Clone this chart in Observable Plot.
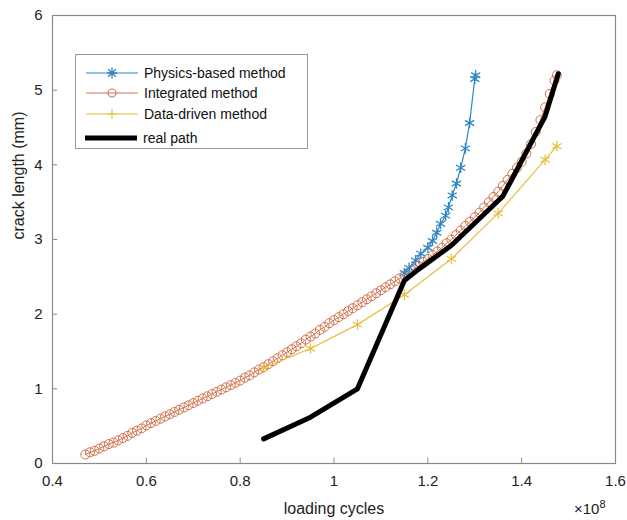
<!DOCTYPE html>
<html>
<head>
<meta charset="utf-8">
<script src="https://cdn.jsdelivr.net/npm/d3@7"></script>
<script src="https://cdn.jsdelivr.net/npm/@observablehq/plot@0.6"></script>
<style>
  body { margin: 0; background: #fff; font-family: "Liberation Sans", Arial, sans-serif; }
  #wrap { position: relative; width: 627px; height: 520px; }
  #legend { position: absolute; left: 75px; top: 54px; width: 233px; height: 95px; border: 1px solid #999; background: #fff; box-sizing: border-box; }
  .row { position: absolute; left: 0; height: 20px; display: flex; align-items: center; font-size: 14px; color: #111; }
  #exp { position: absolute; left: 574px; top: 498px; font-size: 15px; color: #222; }
  #exp sup { font-size: 11px; }
</style>
</head>
<body>
<div id="wrap"></div>
<script>
// Physics-based method
const physX = [1.15, 1.16, 1.174, 1.185, 1.2, 1.21, 1.219, 1.227, 1.238, 1.244, 1.252, 1.261, 1.27, 1.28, 1.289, 1.30, 1.302];
const physY = [2.55, 2.62, 2.72, 2.81, 2.89, 2.98, 3.09, 3.21, 3.32, 3.43, 3.59, 3.75, 3.96, 4.22, 4.56, 5.15, 5.2];
// Integrated method
const intX = [0.47,0.48,0.49,0.50,0.51,0.52,0.53,0.54,0.55,0.56,0.57,0.58,0.59,0.60,0.61,0.62,0.63,0.64,0.65,0.66,0.67,0.68,0.69,0.70,0.71,0.72,0.73,0.74,0.75,0.76,0.77,0.78,0.79,0.80,0.81,0.82,0.83,0.84,0.85,0.86,0.87,0.88,0.89,0.90,0.91,0.92,0.93,0.94,0.95,0.96,0.97,0.98,0.99,1.00,1.01,1.02,1.03,1.04,1.05,1.06,1.07,1.08,1.09,1.10,1.11,1.12,1.13,1.14,1.15,1.16,1.17,1.18,1.19,1.20,1.21,1.22,1.23,1.24,1.25,1.26,1.27,1.28,1.29,1.30,1.31,1.32,1.33,1.34,1.35,1.36,1.37,1.38,1.39,1.40,1.41,1.42,1.43,1.44,1.45,1.46,1.47,1.475];
const intY = [0.12,0.15,0.17,0.20,0.23,0.26,0.28,0.31,0.34,0.37,0.41,0.44,0.47,0.51,0.54,0.57,0.60,0.63,0.66,0.69,0.72,0.75,0.78,0.81,0.84,0.87,0.90,0.93,0.96,0.99,1.02,1.05,1.08,1.11,1.15,1.18,1.22,1.26,1.29,1.33,1.37,1.41,1.45,1.49,1.53,1.57,1.61,1.66,1.70,1.74,1.79,1.83,1.88,1.92,1.96,2.00,2.04,2.08,2.12,2.16,2.20,2.24,2.28,2.32,2.36,2.40,2.44,2.48,2.52,2.56,2.61,2.65,2.70,2.74,2.79,2.84,2.89,2.95,3.00,3.06,3.12,3.18,3.24,3.30,3.36,3.43,3.50,3.57,3.64,3.72,3.80,3.88,3.96,4.04,4.15,4.28,4.44,4.60,4.77,4.95,5.13,5.2];
// Data-driven method
const dataX = [0.85, 0.95, 1.05, 1.15, 1.25, 1.35, 1.45, 1.475];
const dataY = [1.28, 1.54, 1.86, 2.26, 2.74, 3.35, 4.07, 4.25];
// Real path
const realX = [0.85, 0.95, 1.05, 1.15, 1.18, 1.25, 1.36, 1.45, 1.478];
const realY = [0.33, 0.62, 1.0, 2.45, 2.6, 2.92, 3.58, 4.65, 5.22];
// Ticks
const xTicks = [0.4, 0.6, 0.8, 1.0, 1.2, 1.4, 1.6];
const yTicks = [0, 1, 2, 3, 4, 5, 6];

const zip = (xs, ys) => xs.map((x, i) => ({x, y: ys[i]}));
const phys = zip(physX, physY), integ = zip(intX, intY), dd = zip(dataX, dataY), real = zip(realX, realY);

const cBlue = "#2f86c6", cOrange = "#d2714c", cYellow = "#e6bf3c";

const chart = Plot.plot({
  width: 627, height: 520,
  marginLeft: 52, marginRight: 12, marginTop: 15, marginBottom: 57,
  style: {fontFamily: "'Liberation Sans', Arial, sans-serif", background: "#fff"},
  x: {domain: [0.4, 1.6]},
  y: {domain: [0, 6]},
  marks: [
    Plot.frame({stroke: "#8a8a8a", strokeWidth: 1.2}),
    Plot.ruleX(xTicks, {x: d => d, y1: 0, y2: 0.07, stroke: "#8a8a8a"}),
    Plot.ruleY(yTicks, {y: d => d, x1: 0.4, x2: 0.411, stroke: "#8a8a8a"}),
    Plot.axisX({ticks: xTicks, tickSize: 0, tickPadding: 12, tickFormat: d3.format("~g"), fontSize: 15, fill: "#222", label: null}),
    Plot.axisY({ticks: yTicks, tickSize: 0, tickPadding: 10, tickFormat: d3.format("~g"), fontSize: 15, fill: "#222", label: null}),
    Plot.text(["loading cycles"], {frameAnchor: "bottom", dy: 50, fontSize: 16, fill: "#222"}),
    Plot.text(["crack length (mm)"], {frameAnchor: "left", dx: -34, rotate: -90, fontSize: 16, fill: "#222"}),
    Plot.line(integ, {x: "x", y: "y", stroke: cOrange, strokeWidth: 1}),
    Plot.dot(integ, {x: "x", y: "y", r: 4.5, stroke: cOrange, strokeWidth: 1, fill: "none"}),
    Plot.line(dd, {x: "x", y: "y", stroke: cYellow, strokeWidth: 1.2}),
    Plot.dot(dd, {x: "x", y: "y", symbol: "asterisk", r: 5, stroke: cYellow, strokeWidth: 1.2}),
    Plot.line(phys, {x: "x", y: "y", stroke: cBlue, strokeWidth: 1.2}),
    Plot.dot(phys, {x: "x", y: "y", symbol: "asterisk", r: 5, stroke: cBlue, strokeWidth: 1.3}),
    Plot.line(real, {x: "x", y: "y", stroke: "#000", strokeWidth: 5})
  ]
});

const wrap = document.getElementById("wrap");
wrap.appendChild(chart);

const legendItems = [
  {label: "Physics-based method", color: cBlue, sym: "asterisk", w: 1.2},
  {label: "Integrated method", color: cOrange, sym: "circle", w: 1.2},
  {label: "Data-driven method", color: cYellow, sym: "plus", w: 1.2},
  {label: "real path", color: "#000", sym: null, w: 5}
];
const tops = [18, 38, 59, 83];
const leg = document.createElement("div");
leg.id = "legend";
legendItems.forEach((it, i) => {
  const row = document.createElement("div");
  row.className = "row";
  row.style.top = (tops[i] - 10) + "px";
  let symSvg = "";
  if (it.sym === "asterisk") {
    symSvg = `<path d="M26,4.5 V15.5 M21,10 H31 M22.2,6.2 L29.8,13.8 M22.2,13.8 L29.8,6.2" stroke="${it.color}" stroke-width="1.3"/>`;
  } else if (it.sym === "circle") {
    symSvg = `<circle cx="26" cy="10" r="4" fill="none" stroke="${it.color}" stroke-width="1.1"/>`;
  } else if (it.sym === "plus") {
    symSvg = `<path d="M26,5 V15 M21,10 H31" stroke="${it.color}" stroke-width="1.1"/>`;
  }
  row.innerHTML = `<svg width="52" height="20" style="margin-left:${it.sym ? 10 : 9}px;margin-right:6px"><line x1="0" x2="52" y1="10" y2="10" stroke="${it.color}" stroke-width="${it.w}"/>${symSvg}</svg><span>${it.label}</span>`;
  leg.appendChild(row);
});
wrap.appendChild(leg);

const exp = document.createElement("div");
exp.id = "exp";
exp.innerHTML = "×10<sup>8</sup>";
wrap.appendChild(exp);
</script>
</body>
</html>
